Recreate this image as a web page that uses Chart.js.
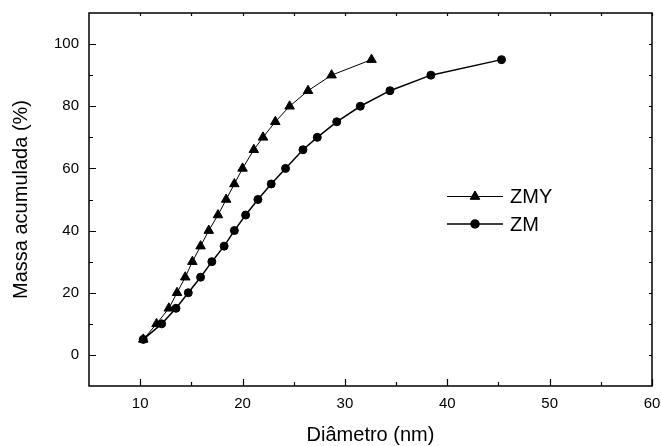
<!DOCTYPE html>
<html lang="pt">
<head>
  <meta charset="UTF-8" />
  <title>Massa acumulada</title>
  <script src="https://cdn.jsdelivr.net/npm/chart.js"></script>
  <style>
    html, body {
      margin: 0;
      padding: 0;
      background: #fff;
    }
    #grafico {
      display: block;
    }
  </style>
</head>
<body>
  <canvas id="grafico" width="661" height="446"></canvas>

  <script>
    // massa acumulada (%) e diametro (nm)
    const massa = [5, 10, 15, 20, 25, 30, 35, 40, 45, 50, 55, 60, 66, 70, 75, 80, 85, 90, 95];
    const diamZMY = [10.3, 11.6, 12.8, 13.6, 14.4, 15.1, 15.9, 16.7, 17.6, 18.4, 19.2, 20.0, 21.1, 22.0, 23.2, 24.6, 26.4, 28.7, 32.6];
    const diamZM = [10.3, 12.1, 13.5, 14.7, 15.9, 17.0, 18.2, 19.2, 20.3, 21.5, 22.8, 24.2, 25.9, 27.3, 29.2, 31.5, 34.4, 38.4, 45.3];

    const xTicks = [10, 20, 30, 40, 50, 60];
    const yTicks = [0, 20, 40, 60, 80, 100];
    const xMinor = [15, 25, 35, 45, 55];
    const yMinor = [10, 30, 50, 70, 90];

    const fonte = "'Liberation Sans', Arial, sans-serif";

    function pontos(xs, ys) {
      return xs.map((x, i) => ({ x: x, y: ys[i] }));
    }

    // sem folga extra dos rotulos nas pontas dos eixos
    function semFolga(s) {
      s.paddingLeft = 0;
      s.paddingRight = 0;
      s.paddingTop = 0;
      s.paddingBottom = 0;
    }

    // moldura com marcas para dentro, como no Origin
    const moldura = {
      id: 'moldura',
      afterDraw(chart) {
        const ctx = chart.ctx;
        const a = chart.chartArea;
        const sx = chart.scales.x;
        const sy = chart.scales.y;
        ctx.save();
        ctx.strokeStyle = '#000';
        ctx.lineWidth = 1.5;
        ctx.strokeRect(a.left, a.top, a.right - a.left, a.bottom - a.top);

        ctx.lineWidth = 1.2;
        ctx.beginPath();
        const marcaX = (v, len, lenTopo) => {
          const px = Math.round(sx.getPixelForValue(v)) + 0.5;
          ctx.moveTo(px, a.bottom); ctx.lineTo(px, a.bottom - len);
          ctx.moveTo(px, a.top); ctx.lineTo(px, a.top + lenTopo);
        };
        const marcaY = (v, len, lenDir) => {
          const py = Math.round(sy.getPixelForValue(v)) + 0.5;
          ctx.moveTo(a.left, py); ctx.lineTo(a.left + len, py);
          ctx.moveTo(a.right, py); ctx.lineTo(a.right - lenDir, py);
        };
        xTicks.forEach(v => marcaX(v, 7, 3));
        xMinor.forEach(v => marcaX(v, 4, 3));
        yTicks.forEach(v => marcaY(v, 7, 3));
        yMinor.forEach(v => marcaY(v, 4, 3));
        ctx.stroke();
        ctx.restore();
      }
    };

    // legenda com linha + simbolo
    const legenda = {
      id: 'legenda',
      afterDraw(chart) {
        const ctx = chart.ctx;
        const linhas = [196.5, 224];
        ctx.save();
        chart.data.datasets.forEach((ds, i) => {
          const y = linhas[i];
          ctx.strokeStyle = ds.borderColor;
          ctx.lineWidth = ds.borderWidth;
          ctx.beginPath();
          ctx.moveTo(447, y);
          ctx.lineTo(503, y);
          ctx.stroke();
          Chart.helpers.drawPoint(ctx, {
            pointStyle: ds.pointStyle,
            radius: ds.pointRadius,
            borderWidth: ds.pointBorderWidth,
            rotation: 0
          }, 475, y);
          ctx.fillStyle = '#000';
          ctx.fill();
          ctx.font = '20px ' + fonte;
          ctx.textBaseline = 'middle';
          ctx.textAlign = 'left';
          ctx.fillText(ds.label, 510, y + 1);
        });
        ctx.restore();
      }
    };

    function desenhar() {
      const ctx = document.getElementById('grafico').getContext('2d');
      new Chart(ctx, {
        type: 'scatter',
        data: {
          datasets: [
            {
              label: 'ZMY',
              data: pontos(diamZMY, massa),
              showLine: true,
              borderColor: '#000',
              backgroundColor: '#000',
              borderWidth: 1,
              pointStyle: 'triangle',
              pointRadius: 5.5,
              pointBorderWidth: 1
            },
            {
              label: 'ZM',
              data: pontos(diamZM, massa),
              showLine: true,
              borderColor: '#000',
              backgroundColor: '#000',
              borderWidth: 1.5,
              pointStyle: 'circle',
              pointRadius: 4,
              pointBorderWidth: 1
            }
          ]
        },
        options: {
          responsive: false,
          animation: false,
          devicePixelRatio: 1,
          layout: { padding: { left: 0, top: 13, right: 9, bottom: 0 } },
          plugins: {
            legend: { display: false },
            tooltip: { enabled: false }
          },
          scales: {
            x: {
              type: 'linear',
              position: 'bottom',
              min: 5,
              max: 60,
              afterBuildTicks: (s) => { s.ticks = xTicks.map(v => ({ value: v })); },
              afterFit: (s) => { s.height = 60; semFolga(s); },
              grid: { display: false, drawTicks: false },
              border: { display: false },
              ticks: {
                color: '#000',
                padding: 9,
                maxRotation: 0,
                font: { family: fonte, size: 15 }
              },
              title: {
                display: true,
                text: 'Diâmetro (nm)',
                color: '#000',
                padding: 0,
                font: { family: fonte, size: 20, lineHeight: 1.1 }
              }
            },
            y: {
              type: 'linear',
              min: -10,
              max: 110,
              afterBuildTicks: (s) => { s.ticks = yTicks.map(v => ({ value: v })); },
              afterFit: (s) => { s.width = 89; semFolga(s); },
              grid: { display: false, drawTicks: false },
              border: { display: false },
              ticks: {
                color: '#000',
                padding: 10,
                font: { family: fonte, size: 15 }
              },
              title: {
                display: true,
                text: 'Massa acumulada (%)',
                color: '#000',
                padding: { top: 10, bottom: 0 },
                font: { family: fonte, size: 20, lineHeight: 1.1 }
              }
            }
          }
        },
        plugins: [moldura, legenda]
      });
    }

    window.onload = desenhar;
  </script>
</body>
</html>
